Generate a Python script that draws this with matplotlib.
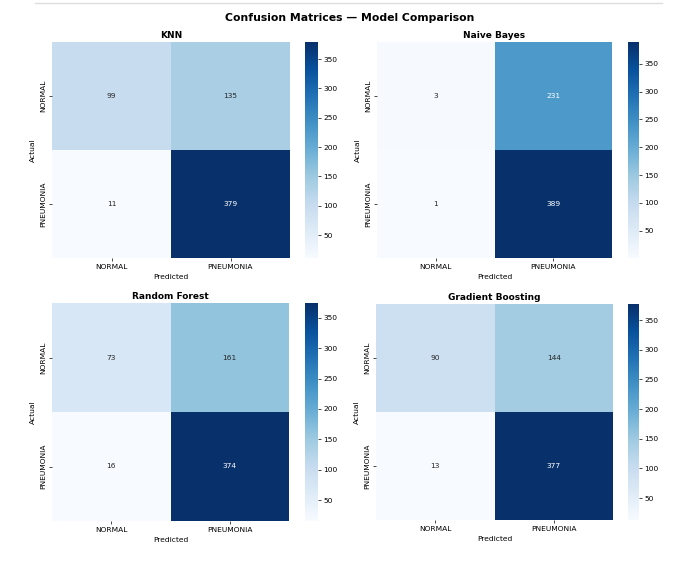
import numpy as np
import matplotlib
matplotlib.use("Agg")
import matplotlib.pyplot as plt
import seaborn as sns

# confusion matrix values
labels = ["NORMAL", "PNEUMONIA"]
models = ["KNN", "Naive Bayes", "Random Forest", "Gradient Boosting"]
cm_knn = [[99, 135], [11, 379]]
cm_nb = [[3, 231], [1, 389]]
cm_rf = [[73, 161], [16, 374]]
cm_gb = [[90, 144], [13, 377]]
matrices = [cm_knn, cm_nb, cm_rf, cm_gb]

W, H = 690, 561
fig = plt.figure(figsize=(W / 100, H / 100), dpi=100)

# pixel boxes (left, top, right, bottom) for heatmap and colorbar
boxes = [
    ((52, 42, 290, 258), (305, 42, 318, 258)),
    ((377, 42, 612, 258), (628, 42, 639, 258)),
    ((52, 303, 289, 521), (305, 303, 318, 521)),
    ((376, 304, 613, 520), (628, 304, 639, 520)),
]

def to_rect(b):
    l, t, r, btm = b
    return [l / W, 1 - btm / H, (r - l) / W, (btm - t) / H]

fs = 5.4
for name, cm, (hb, cb) in zip(models, matrices, boxes):
    ax = fig.add_axes(to_rect(hb))
    cax = fig.add_axes(to_rect(cb))
    sns.heatmap(np.array(cm), annot=True, fmt="d", cmap="Blues",
                xticklabels=labels, yticklabels=labels,
                ax=ax, cbar_ax=cax, annot_kws={"fontsize": fs})
    ax.set_title(name, fontsize=6.5, fontweight="bold", pad=3)
    ax.set_xlabel("Predicted", fontsize=fs, labelpad=3)
    ax.set_ylabel("Actual", fontsize=fs, labelpad=3)
    ax.tick_params(labelsize=fs, length=2, width=0.5, pad=2)
    cax.tick_params(labelsize=fs, length=2, width=0.5, pad=2)
    for s in cax.spines.values():
        s.set_visible(False)

fig.text(350 / W, 1 - 18 / H, "Confusion Matrices \u2014 Model Comparison",
         ha="center", va="center", fontsize=7.8, fontweight="bold")

# faint frame line of the screenshot at the top
fig.add_artist(plt.Line2D([35 / W, 662 / W], [1 - 3 / H, 1 - 3 / H],
                          color="#dddddd", lw=1))

fig.savefig("out.png", dpi=100)
